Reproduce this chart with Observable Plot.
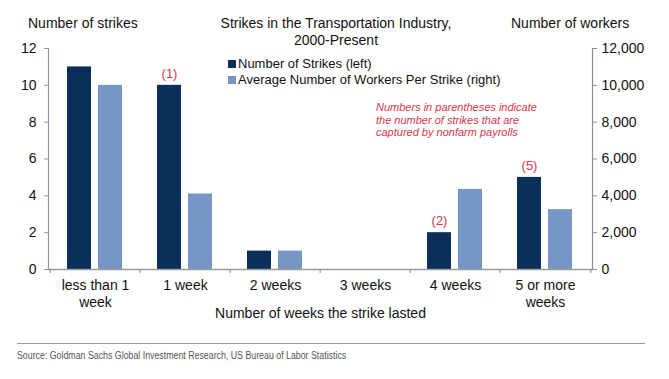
<!DOCTYPE html>
<html>
<head>
<meta charset="utf-8">
<script src="https://cdn.jsdelivr.net/npm/d3@7"></script>
<script src="https://cdn.jsdelivr.net/npm/@observablehq/plot@0.6"></script>
<style>
  html, body { margin: 0; padding: 0; background: #fff; }
  #wrap { position: relative; width: 669px; height: 379px; font-family: "Liberation Sans", Arial, sans-serif; color: #111; overflow: hidden; }
  .abs { position: absolute; white-space: nowrap; }
  #chart { position: absolute; left: 0; top: 0; }
  .sw { display: inline-block; width: 8px; height: 8px; margin-right: 2px; vertical-align: 0px; }
</style>
</head>
<body>
<div id="wrap">
  <div id="chart"></div>
  <div class="abs" style="left:28px; top:15px; font-size:14px; line-height:16px;">Number of strikes</div>
  <div class="abs" style="left:511px; top:15px; font-size:14px; line-height:16px;">Number of workers</div>
  <div class="abs" id="title" style="left:186px; width:300px; top:15px; font-size:14px; line-height:17px; text-align:center;"></div>
  <div class="abs" id="legend" style="left:228px; top:56px; font-size:13px; line-height:16px;"></div>
  <div class="abs" id="note" style="left:376px; top:101px; font-size:11px; line-height:12.5px; font-style:italic; color:#d9354a;"></div>
  <div class="abs" style="left:17px; top:343px; width:628px; height:0; border-top:1.5px solid #9a9a9a;"></div>
  <div class="abs" id="source" style="left:17px; top:350px; font-size:10px; line-height:12px; color:#555; transform:scaleX(0.88); transform-origin:0 0;"></div>
</div>
<script>
// ---- data ----
const categories = ["less than 1\nweek", "1 week", "2 weeks", "3 weeks", "4 weeks", "5 or more\nweeks"];
const strikes = [11, 10, 1, 0, 2, 5];
const workers = [10000, 4100, 1000, 0, 4350, 3250];
const captured = [null, 1, null, null, 2, 5];
const leftTicks = [0, 2, 4, 6, 8, 10, 12];
const seriesNames = ["Number of Strikes (left)", "Average Number of Workers Per Strike (right)"];
const titleLines = ["Strikes in the Transportation Industry,", "2000-Present"];
const noteLines = ["Numbers in parentheses indicate", "the number of strikes that are", "captured by nonfarm payrolls"];
const xLabel = "Number of weeks the strike lasted";
const sourceText = "Source: Goldman Sachs Global Investment Research, US Bureau of Labor Statistics";

const dark = "#0b2f5b";
const light = "#7596c6";
const red = "#d9354a";

const W = 669, H = 330, mL = 48, mR = 77, mT = 48, mB = 61;
const step = (W - mL - mR) / categories.length;

const strikeRows = categories.map((c, i) => ({cat: c, value: strikes[i]}));
const workerRows = categories.map((c, i) => ({cat: c, value: workers[i] / 1000}));
const capRows = categories.map((c, i) => ({cat: c, y: strikes[i], n: captured[i]})).filter(d => d.n != null);
const lastRow = [categories[categories.length - 1]];

const chart = Plot.plot({
  width: W, height: H,
  marginLeft: mL, marginRight: mR, marginTop: mT, marginBottom: mB,
  style: {fontFamily: "'Liberation Sans', Arial, sans-serif", fontSize: "14px", color: "#111", background: "#fff"},
  x: {domain: categories, padding: 0},
  y: {domain: [0, 12]},
  marks: [
    Plot.barY(strikeRows, {x: "cat", y: "value", fill: dark, insetLeft: 17, insetRight: 49}),
    Plot.barY(workerRows, {x: "cat", y: "value", fill: light, insetLeft: 48, insetRight: 18}),
    Plot.frame({anchor: "left", stroke: "#8d99a8", strokeWidth: 1.2}),
    Plot.frame({anchor: "right", stroke: "#8d8d8d", strokeWidth: 1.2}),
    Plot.frame({anchor: "bottom", stroke: "#9a9a9a", strokeWidth: 1.6}),
    Plot.ruleX(categories, {x: d => d, dx: -step / 2, y1: 0, y2: -0.22, stroke: "#8d8d8d"}),
    Plot.ruleX(lastRow, {x: d => d, dx: step / 2, y1: 0, y2: -0.22, stroke: "#8d8d8d"}),
    Plot.axisY({anchor: "left", ticks: leftTicks, tickSize: 4, tickPadding: 8, label: null, stroke: "#8d99a8", fontSize: 14}),
    Plot.axisY({anchor: "right", ticks: leftTicks, tickSize: 4, tickPadding: 5, label: null, stroke: "#8d8d8d", fontSize: 14,
      tickFormat: d => d3.format(",")(d * 1000)}),
    Plot.axisX({tickSize: 0, tickPadding: 9, lineHeight: 1.2, fontSize: 14,
      label: xLabel, labelAnchor: "center", labelOffset: 48}),
    Plot.text(capRows, {x: "cat", y: "y", text: d => `(${d.n})`, dx: -16, dy: -12, fill: red, fontSize: 13})
  ]
});
document.getElementById("chart").appendChild(chart);

document.getElementById("title").innerHTML = titleLines.join("<br>");
document.getElementById("legend").innerHTML = seriesNames.map((s, i) =>
  `<div><span class="sw" style="background:${i === 0 ? dark : light}"></span>${s}</div>`).join("");
document.getElementById("note").innerHTML = noteLines.join("<br>");
document.getElementById("source").textContent = sourceText;
</script>
</body>
</html>
